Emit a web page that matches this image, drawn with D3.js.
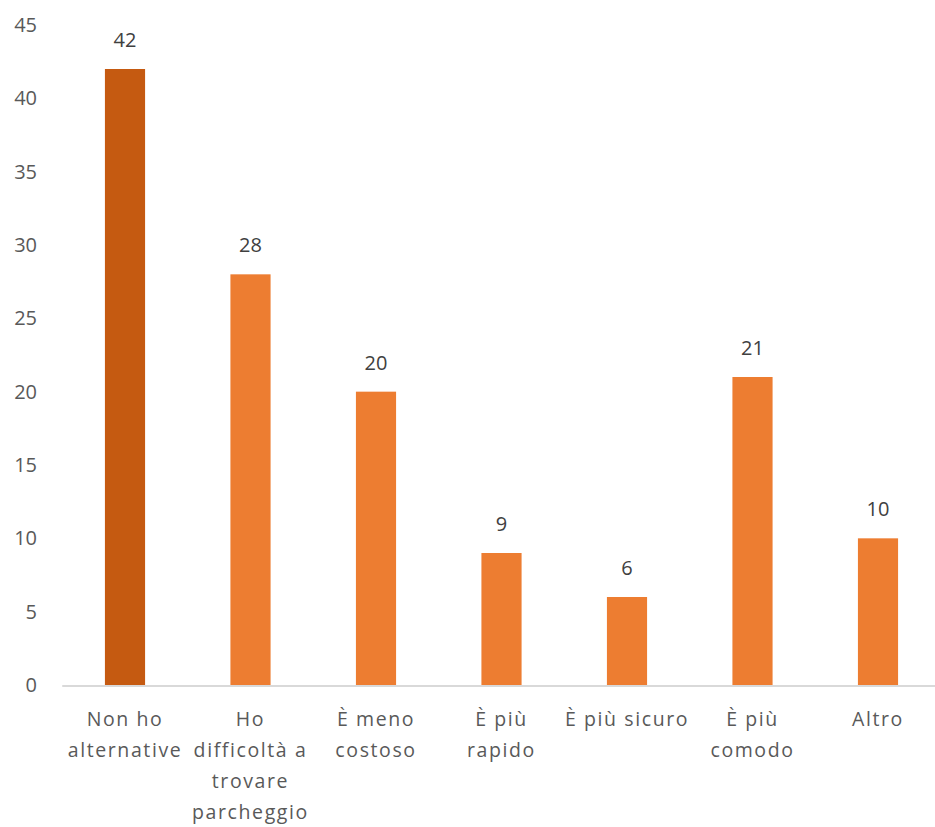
<!DOCTYPE html>
<html>
<head>
<meta charset="utf-8">
<script src="https://cdn.jsdelivr.net/npm/d3@7"></script>
<style>
  html, body { margin: 0; padding: 0; background: #fff; }
  svg text { font-family: "Open Sans", "Liberation Sans", sans-serif; }
</style>
</head>
<body>
<svg id="chart" width="935" height="827"></svg>
<script>
const categories = ["Non ho alternative", "Ho difficoltà a trovare parcheggio", "È meno costoso", "È più rapido", "È più sicuro", "È più comodo", "Altro"];
const categoryLines = [
  ["Non ho", "alternative"],
  ["Ho", "difficoltà a", "trovare", "parcheggio"],
  ["È meno", "costoso"],
  ["È più", "rapido"],
  ["È più sicuro"],
  ["È più", "comodo"],
  ["Altro"]
];
const values = [42, 28, 20, 9, 6, 21, 10];
const yTicks = [0, 5, 10, 15, 20, 25, 30, 35, 40, 45];
const colors = ["#C55A11", "#ED7D31", "#ED7D31", "#ED7D31", "#ED7D31", "#ED7D31", "#ED7D31"];

(function () {
const svg = d3.select("#chart");
const mLeft = 62.25, mRight = 940.75, mTop = 25, mBottom = 685;

const x = d3.scaleBand().domain(categories).range([mLeft, mRight]).paddingInner(0.68).paddingOuter(0.34);
const y = d3.scaleLinear().domain([0, 45]).range([mBottom, mTop]);

// Y axis labels
const yAxis = d3.axisLeft(y).tickValues(yTicks).tickSize(0).tickPadding(0);
const yg = svg.append("g").attr("transform", "translate(37,0)").call(yAxis);
yg.select(".domain").remove();
yg.selectAll("text")
  .attr("fill", "#595959")
  .style("font-size", "20px")
  .style("font-family", "'Open Sans', 'Liberation Sans', sans-serif")
  .attr("text-anchor", "end");

// bars
svg.append("g").selectAll("rect")
  .data(values)
  .join("rect")
  .attr("x", (d, i) => x(categories[i]))
  .attr("width", x.bandwidth())
  .attr("y", d => y(d))
  .attr("height", d => y(0) - y(d))
  .attr("fill", (d, i) => colors[i]);

// baseline
const xAxis = d3.axisBottom(x).tickSize(0).tickFormat("");
const xg = svg.append("g").attr("transform", `translate(0,${mBottom + 1})`).call(xAxis);
xg.select(".domain").attr("stroke", "#D9D9D9").attr("stroke-width", 2)
  .attr("d", `M${mLeft},0H935`);

// value labels
svg.append("g").selectAll("text")
  .data(values)
  .join("text")
  .attr("x", (d, i) => x(categories[i]) + x.bandwidth() / 2)
  .attr("y", d => y(d) - 22)
  .attr("text-anchor", "middle")
  .attr("fill", "#404040")
  .style("font-size", "20px")
  .text(d => d);

// category labels
const lab = svg.append("g").selectAll("text")
  .data(categoryLines)
  .join("text")
  .attr("text-anchor", "middle")
  .attr("fill", "#595959")
  .style("font-size", "19.5px")
  .style("letter-spacing", "1.6px");
lab.each(function(lines, i) {
  const cx = x(categories[i]) + x.bandwidth() / 2;
  d3.select(this).selectAll("tspan")
    .data(lines)
    .join("tspan")
    .attr("x", cx)
    .attr("y", (l, j) => 726 + j * 31)
    .text(l => l);
});
})();
</script>
</body>
</html>
